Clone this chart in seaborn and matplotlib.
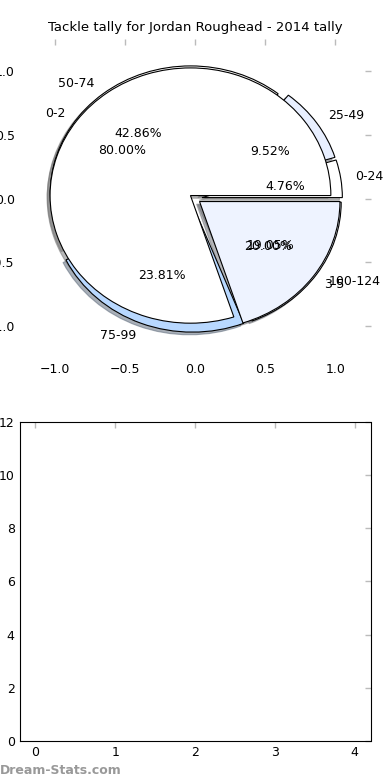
import matplotlib
matplotlib.use("Agg")
import matplotlib.pyplot as plt
import seaborn as sns

# --- dados ---
tackle_bins = ["0-24", "25-49", "50-74", "75-99", "100-124"]
tackle_counts = [1, 2, 9, 5, 4]
tackle_colors = ["#FFFFFF", "#E8EFFF", "#FFFFFF", "#B8D8FF", "#EEF3FF"]

game_bins = ["0-2", "3-5"]
game_counts = [4, 1]
game_colors = ["#FFFFFF", "#EEF3FF"]

bottom_xticks = [0, 1, 2, 3, 4]
bottom_yticks = [0, 2, 4, 6, 8, 10, 12]

# --- estilo ---
sns.set_style("white", rc={
    "xtick.direction": "in",
    "ytick.direction": "in",
    "axes.edgecolor": "black",
    "axes.linewidth": 1.0,
    "text.color": "black",
})
plt.rcParams["font.family"] = ["DejaVu Sans"]
plt.rcParams["font.size"] = 9

fig, (ax1, ax2) = plt.subplots(2, 1, figsize=(3.9, 7.8), dpi=100)
fig.subplots_adjust(left=0.05, right=0.95, top=0.95, bottom=0.05, hspace=0.2)

shadow_opts = {"ox": -0.015, "oy": -0.015, "shade": 0.55}

# Pizza 1: faixas de tackles
ax1.pie(tackle_counts, labels=tackle_bins, colors=tackle_colors, autopct="%.2f%%",
        explode=[0.05] * len(tackle_counts), shadow=shadow_opts, frame=True,
        wedgeprops={"edgecolor": "black", "linewidth": 0.8},
        textprops={"fontsize": 9, "color": "black"})
# Pizza 2 por cima: faixas de jogos
ax1.pie(game_counts, labels=game_bins, colors=game_colors, autopct="%.2f%%",
        explode=[0.04] * len(game_counts), shadow=shadow_opts, frame=True,
        wedgeprops={"edgecolor": "black", "linewidth": 0.8},
        textprops={"fontsize": 9, "color": "black"})
ax1.set_aspect("auto")
ax1.set_xlim(-1.25, 1.25)
ax1.set_ylim(-1.25, 1.25)
ax1.set_xticks([-1.0, -0.5, 0.0, 0.5, 1.0])
ax1.set_yticks([-1.0, -0.5, 0.0, 0.5, 1.0])
for s in ax1.spines.values():
    s.set_visible(False)
ax1.set_title("Tackle tally for Jordan Roughead - 2014 tally", fontsize=9.5, color="black")

# Eixo inferior vazio
ax2.set_xlim(-0.2, 4.2)
ax2.set_ylim(0, 12)
ax2.set_xticks(bottom_xticks)
ax2.set_yticks(bottom_yticks)

for ax in (ax1, ax2):
    ax.tick_params(top=True, right=True, length=4, width=1, color="#BBBBBB",
                   labelcolor="black", labelsize=9)

fig.text(0.0, 0.012, "Dream-Stats.com", color="#999999", fontsize=9,
         fontweight="bold", va="center", ha="left")

plt.savefig("out.png", dpi=100)
plt.close()
